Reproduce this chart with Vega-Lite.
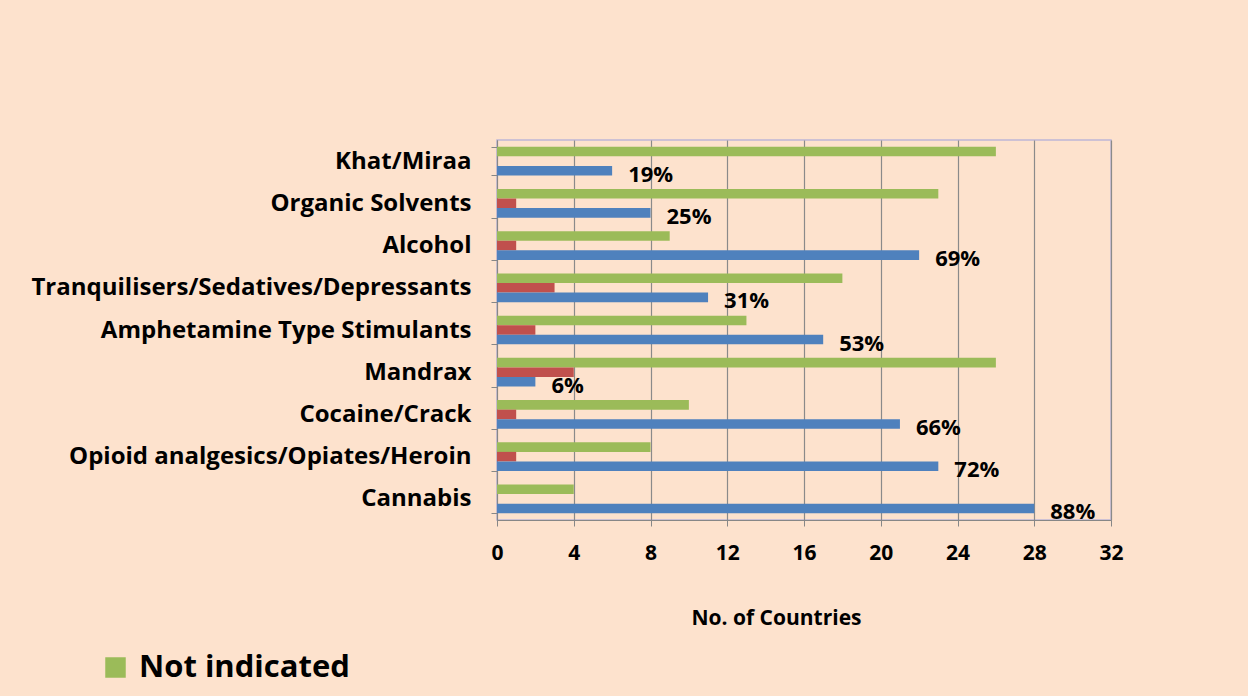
{
  "$schema": "https://vega.github.io/schema/vega-lite/v6.json",
  "width": 614,
  "height": 380,
  "autosize": {"type": "none"},
  "padding": {"left": 497, "top": 140, "right": 137, "bottom": 176},
  "background": "#FDE2CD",
  "config": {
    "view": {"stroke": "#BDB6D6", "strokeWidth": 1.5},
    "font": "Open Sans"
  },
  "data": {
    "values": [
      {"drug": "Khat/Miraa", "series": "Not indicated", "value": 26, "label": ""},
      {"drug": "Khat/Miraa", "series": "Decrease", "value": 0, "label": ""},
      {"drug": "Khat/Miraa", "series": "Increase", "value": 6, "label": "19%"},
      {"drug": "Organic Solvents", "series": "Not indicated", "value": 23, "label": ""},
      {"drug": "Organic Solvents", "series": "Decrease", "value": 1, "label": ""},
      {"drug": "Organic Solvents", "series": "Increase", "value": 8, "label": "25%"},
      {"drug": "Alcohol", "series": "Not indicated", "value": 9, "label": ""},
      {"drug": "Alcohol", "series": "Decrease", "value": 1, "label": ""},
      {"drug": "Alcohol", "series": "Increase", "value": 22, "label": "69%"},
      {"drug": "Tranquilisers/Sedatives/Depressants", "series": "Not indicated", "value": 18, "label": ""},
      {"drug": "Tranquilisers/Sedatives/Depressants", "series": "Decrease", "value": 3, "label": ""},
      {"drug": "Tranquilisers/Sedatives/Depressants", "series": "Increase", "value": 11, "label": "31%"},
      {"drug": "Amphetamine Type Stimulants", "series": "Not indicated", "value": 13, "label": ""},
      {"drug": "Amphetamine Type Stimulants", "series": "Decrease", "value": 2, "label": ""},
      {"drug": "Amphetamine Type Stimulants", "series": "Increase", "value": 17, "label": "53%"},
      {"drug": "Mandrax", "series": "Not indicated", "value": 26, "label": ""},
      {"drug": "Mandrax", "series": "Decrease", "value": 4, "label": ""},
      {"drug": "Mandrax", "series": "Increase", "value": 2, "label": "6%"},
      {"drug": "Cocaine/Crack", "series": "Not indicated", "value": 10, "label": ""},
      {"drug": "Cocaine/Crack", "series": "Decrease", "value": 1, "label": ""},
      {"drug": "Cocaine/Crack", "series": "Increase", "value": 21, "label": "66%"},
      {"drug": "Opioid analgesics/Opiates/Heroin", "series": "Not indicated", "value": 8, "label": ""},
      {"drug": "Opioid analgesics/Opiates/Heroin", "series": "Decrease", "value": 1, "label": ""},
      {"drug": "Opioid analgesics/Opiates/Heroin", "series": "Increase", "value": 23, "label": "72%"},
      {"drug": "Cannabis", "series": "Not indicated", "value": 4, "label": ""},
      {"drug": "Cannabis", "series": "Decrease", "value": 0, "label": ""},
      {"drug": "Cannabis", "series": "Increase", "value": 28, "label": "88%"}
    ]
  },
  "encoding": {
    "y": {
      "field": "drug",
      "type": "nominal",
      "sort": ["Khat/Miraa", "Organic Solvents", "Alcohol", "Tranquilisers/Sedatives/Depressants", "Amphetamine Type Stimulants", "Mandrax", "Cocaine/Crack", "Opioid analgesics/Opiates/Heroin", "Cannabis"],
      "scale": {"paddingInner": 0.32, "paddingOuter": 0.16},
      "axis": {
        "title": null,
        "tickBand": "extent",
        "tickSize": 6,
        "tickColor": "#878787",
        "domainColor": "#878787",
        "labelFont": "Open Sans",
        "labelFontSize": 24,
        "labelFontWeight": "bold",
        "labelColor": "#000000",
        "labelPadding": 20,
        "labelLimit": 600
      }
    },
    "yOffset": {
      "field": "series",
      "type": "nominal",
      "sort": ["Not indicated", "Decrease", "Increase"],
      "scale": {"paddingInner": 0, "paddingOuter": 0}
    },
    "x": {
      "field": "value",
      "type": "quantitative",
      "scale": {"domain": [0, 32], "nice": false},
      "axis": {
        "values": [0, 4, 8, 12, 16, 20, 24, 28, 32],
        "title": "No. of Countries",
        "grid": true,
        "gridColor": "#8A8A8A",
        "gridWidth": 1.2,
        "tickColor": "#878787",
        "tickSize": 6,
        "domainColor": "#878787",
        "labelFont": "Open Sans",
        "labelFontSize": 21,
        "labelFontWeight": "bold",
        "labelColor": "#000000",
        "labelPadding": 16,
        "labelFlush": false,
        "titleFont": "Open Sans",
        "titleFontSize": 21,
        "titleFontWeight": "bold",
        "titleColor": "#000000",
        "titleX": 279,
        "titleY": 87,
        "titleAlign": "center",
        "titleBaseline": "top"
      }
    }
  },
  "layer": [
    {
      "mark": {"type": "bar"},
      "encoding": {
        "color": {
          "field": "series",
          "type": "nominal",
          "scale": {"domain": ["Increase", "Decrease", "Not indicated"], "range": ["#4F81BD", "#C0504D", "#9BBB59"]},
          "legend": {
            "values": ["Not indicated"],
            "title": null,
            "orient": "none",
            "legendX": -397,
            "legendY": 512,
            "symbolType": "square",
            "symbolSize": 420,
            "symbolStrokeWidth": 0,
            "labelFont": "Open Sans",
            "labelFontSize": 31,
            "labelFontWeight": "bold",
            "labelColor": "#000000",
            "labelLimit": 400,
            "labelOffset": 8
          }
        }
      }
    },
    {
      "mark": {"type": "text", "align": "left", "baseline": "middle", "dx": 16, "dy": 4, "font": "Open Sans", "fontSize": 22, "fontWeight": "bold", "color": "#000000"},
      "encoding": {
        "text": {"field": "label"}
      }
    }
  ]
}
